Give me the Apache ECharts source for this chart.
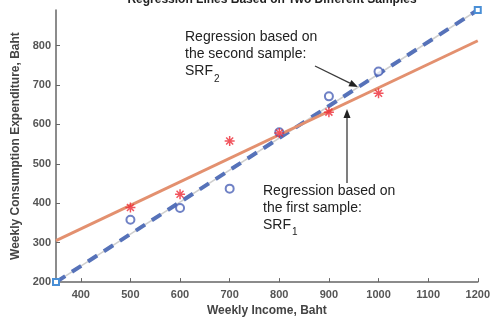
<!DOCTYPE html>
<html>
<head>
<meta charset="utf-8">
<script src="https://cdn.jsdelivr.net/npm/echarts@6/dist/echarts.min.js"></script>
<style>
  html, body { margin: 0; padding: 0; background: #fff; }
  #main { width: 493px; height: 322px; }
</style>
</head>
<body>
<div id="main"></div>
<script>
// sample points
var income = [500, 600, 700, 800, 900, 1000];
var sample1 = [389, 423, 558, 578, 631, 679];   // red stars
var sample2 = [358, 388, 437, 580, 671, 734];   // blue circles

// fitted lines, read at the ends of the x range
var lineX = [350, 1200];
var srf1 = [305, 812];
var srf2 = [200, 890];

var xTicks = [400, 500, 600, 700, 800, 900, 1000, 1100, 1200];
var yTicks = [200, 300, 400, 500, 600, 700, 800];

function pairs(xs, ys) {
    return xs.map(function (x, i) { return [x, ys[i]]; });
}

// asterisk made of four bars
var starPath = 'path://M-1,-0.15L1,-0.15L1,0.15L-1,0.15Z' +
    'M-0.15,-1L0.15,-1L0.15,1L-0.15,1Z' +
    'M-0.594,-0.806L0.806,0.594L0.594,0.806L-0.806,-0.594Z' +
    'M-0.806,0.594L0.594,-0.806L0.806,-0.594L-0.594,0.806Z';

function arrow(x1, y1, x2, y2) {
    var a = Math.atan2(y2 - y1, x2 - x1);
    var len = 9, w = 3.5;
    var bx = x2 - Math.cos(a) * len, by = y2 - Math.sin(a) * len;
    var px = -Math.sin(a) * w, py = Math.cos(a) * w;
    return {
        type: 'group',
        children: [
            { type: 'line', shape: { x1: x1, y1: y1, x2: bx, y2: by },
              style: { stroke: '#3a3a3a', lineWidth: 1.3 } },
            { type: 'polygon', shape: { points: [[x2, y2], [bx + px, by + py], [bx - px, by - py]] },
              style: { fill: '#222' } }
        ]
    };
}

var noteFont = '"Liberation Sans", Arial, sans-serif';
var axisText = {
    color: '#555', fontWeight: 'bold', fontSize: 11, fontFamily: noteFont,
    formatter: function (v) { return String(v); }
};

var chart = echarts.init(document.getElementById('main'), null, { renderer: 'canvas' });
chart.setOption({
    animation: false,
    title: {
        text: 'Regression Lines Based on Two Different Samples',
        left: 267, textAlign: 'center', top: -11,
        textStyle: { fontSize: 12, fontWeight: 'bold', color: '#222', fontFamily: noteFont }
    },
    grid: { left: 56, right: 14, top: 10, bottom: 36.5, containLabel: false },
    xAxis: {
        type: 'value', min: 350, max: 1200,
        name: 'Weekly Income, Baht', nameLocation: 'middle', nameGap: 20,
        nameTextStyle: { color: '#444', fontWeight: 'bold', fontSize: 12, fontFamily: noteFont },
        axisLine: { show: true, lineStyle: { color: '#666', width: 1.5 } },
        axisTick: { show: true, inside: true, length: 4, customValues: xTicks, lineStyle: { color: '#666' } },
        axisLabel: Object.assign({ customValues: xTicks, margin: 7 }, axisText),
        splitLine: { show: false }
    },
    yAxis: {
        type: 'value', min: 200, max: 890,
        name: 'Weekly Consumption Expenditure, Baht', nameLocation: 'middle', nameGap: 23,
        nameTextStyle: { color: '#444', fontWeight: 'bold', fontSize: 12, fontFamily: noteFont },
        axisLine: { show: true, lineStyle: { color: '#666', width: 1.5 } },
        axisTick: { show: true, inside: true, length: 4, customValues: yTicks, lineStyle: { color: '#666' } },
        axisLabel: Object.assign({ customValues: yTicks, margin: 5 }, axisText),
        splitLine: { show: false }
    },
    series: [
        {
            type: 'line', data: pairs(lineX, srf2), showSymbol: false, z: 1,
            lineStyle: { color: '#cfcfcf', width: 1.5 }
        },
        {
            type: 'line', data: pairs(lineX, srf2), z: 2,
            symbol: 'emptyRect', symbolSize: 6, showSymbol: true,
            itemStyle: { color: '#4a8fd6', borderWidth: 1.2 },
            lineStyle: { color: '#5672b9', width: 4, type: [11, 8], cap: 'butt' }
        },
        {
            type: 'line', data: pairs(lineX, srf1), showSymbol: false, z: 3,
            lineStyle: { color: '#e3906f', width: 3 }
        },
        {
            type: 'scatter', data: pairs(income, sample2), z: 4,
            symbol: 'emptyCircle', symbolSize: 8,
            itemStyle: { color: '#4b62b6', borderWidth: 1.3 }
        },
        {
            type: 'scatter', data: pairs(income, sample1), z: 5,
            symbol: starPath, symbolSize: 10,
            itemStyle: { color: '#ee2b36' }
        }
    ],
    graphic: [
        { type: 'text', left: 185, top: 29, style: {
            text: 'Regression based on\nthe second sample:\nSRF', font: '14px ' + noteFont,
            lineHeight: 17, fill: '#222' } },
        { type: 'text', left: 214, top: 74, style: { text: '2', font: '10px ' + noteFont, fill: '#222' } },
        { type: 'text', left: 263, top: 183, style: {
            text: 'Regression based on\nthe first sample:\nSRF', font: '14px ' + noteFont,
            lineHeight: 17, fill: '#222' } },
        { type: 'text', left: 292, top: 227, style: { text: '1', font: '10px ' + noteFont, fill: '#222' } },
        arrow(315, 66, 358, 87),
        arrow(347, 183, 347, 109)
    ]
});
</script>
</body>
</html>
